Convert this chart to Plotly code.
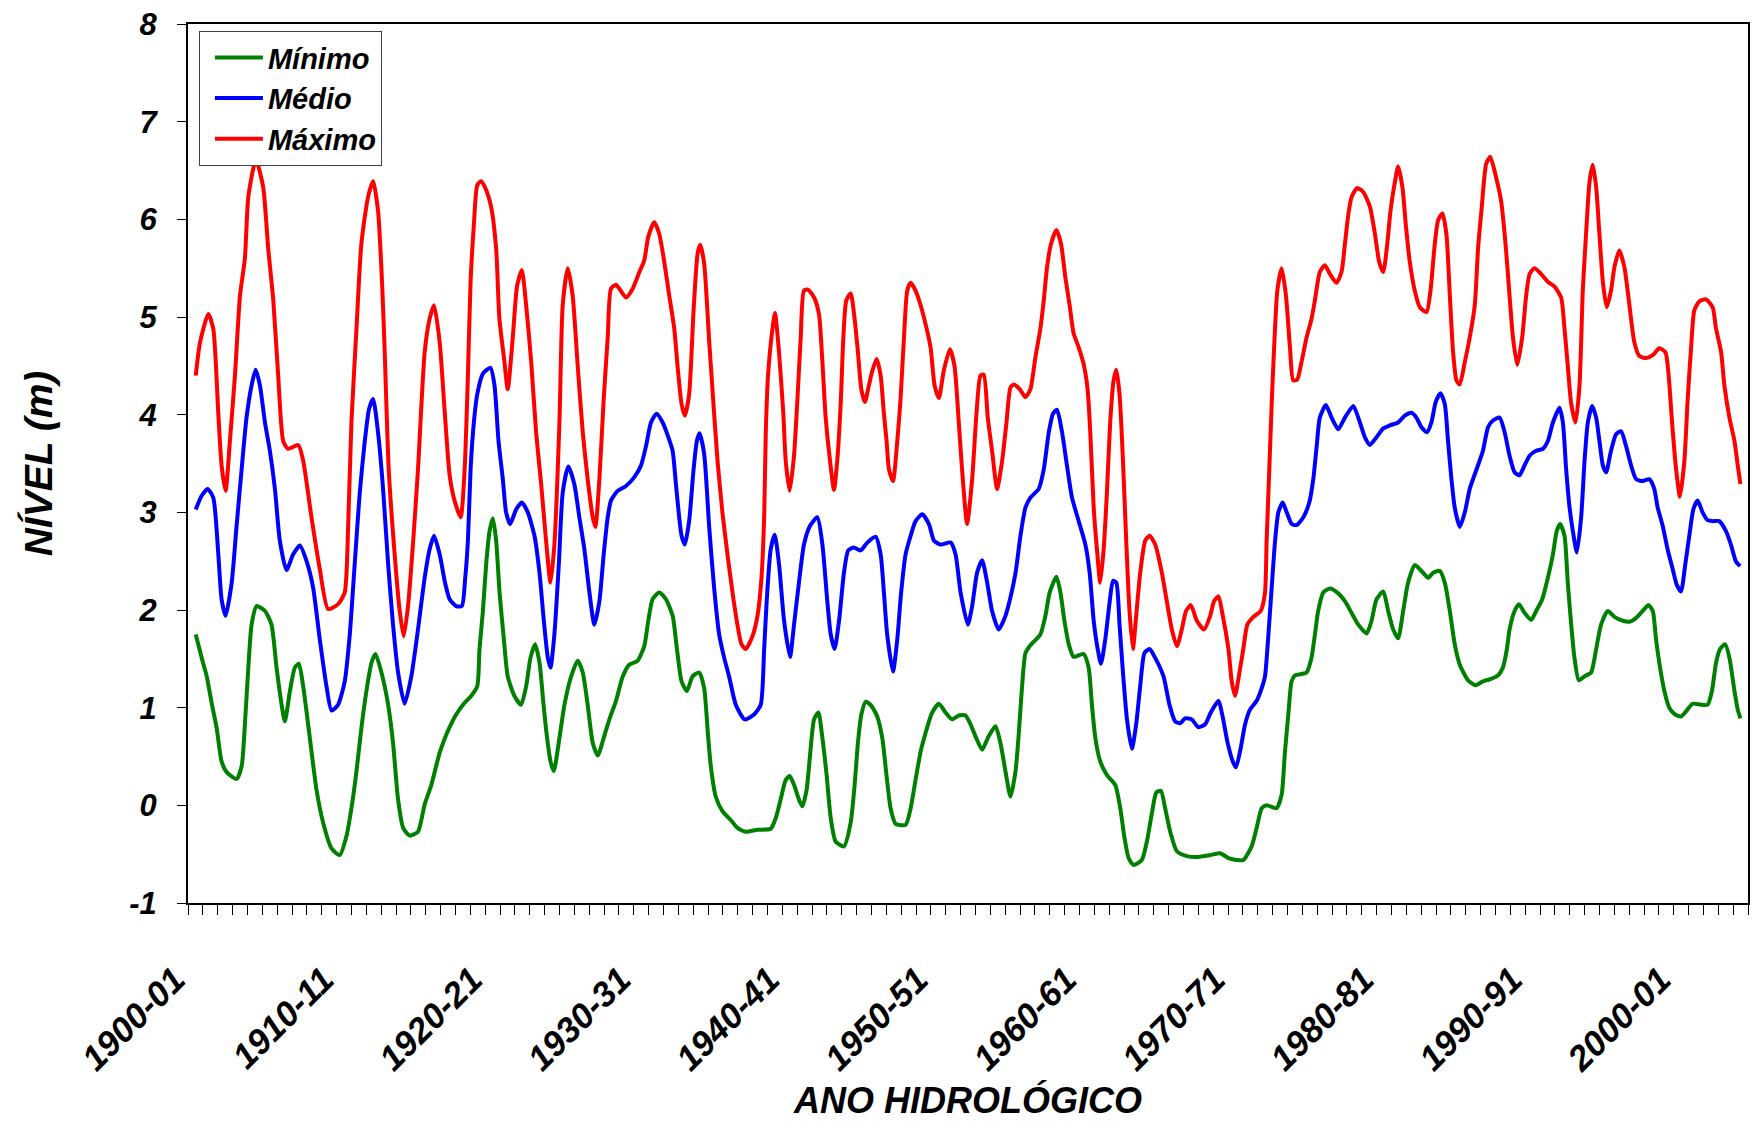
import plotly.graph_objects as go

# Hydrological-year axis: labels every ten years, tick marks every year
DECADE_LABELS = ["1900-01", "1910-11", "1920-21", "1930-31", "1940-41", "1950-51",
                 "1960-61", "1970-71", "1980-81", "1990-91", "2000-01"]
FIRST_YEAR = 1900
LAST_YEAR = 2005

# Level axis
LEVEL_TICKS = [-1, 0, 1, 2, 3, 4, 5, 6, 7, 8]
LEVEL_LABELS = ["-1", "0", "1", "2", "3", "4", "5", "6", "7", "8"]

SERIES_NAMES = ["Mínimo", "Médio", "Máximo"]
SERIES_COLORS = ["#008000", "#0000FF", "#FF0000"]

# Mínimo
min_years = [
    1900.52, 1900.92, 1901.26, 1901.59, 1901.93, 1902.26, 1902.60, 1903.27, 1903.61, 1903.83,
    1904.06, 1904.28, 1904.62, 1905.18, 1905.62, 1905.96, 1906.30, 1906.52, 1906.86, 1907.19,
    1907.46, 1907.75, 1908.20, 1908.65, 1909.10, 1909.66, 1910.21, 1910.66, 1911.00, 1911.34,
    1911.67, 1912.01, 1912.35, 1912.62, 1913.02, 1913.47, 1913.80, 1914.14, 1914.48, 1914.92,
    1915.48, 1915.93, 1916.38, 1916.94, 1917.27, 1917.61, 1918.05, 1918.62, 1919.06, 1919.47,
    1919.62, 1919.85, 1920.07, 1920.30, 1920.52, 1920.74, 1920.97, 1921.26, 1921.52, 1921.97,
    1922.42, 1922.76, 1923.05, 1923.36, 1923.66, 1923.93, 1924.17, 1924.40, 1924.62, 1925.00,
    1925.34, 1925.79, 1926.23, 1926.57, 1926.90, 1927.24, 1927.58, 1927.98, 1928.36, 1928.81,
    1929.26, 1929.70, 1930.26, 1930.71, 1930.98, 1931.27, 1931.72, 1932.17, 1932.62, 1932.91,
    1933.22, 1933.58, 1933.96, 1934.41, 1934.74, 1935.00, 1935.19, 1935.52, 1935.97, 1936.53,
    1936.98, 1937.54, 1938.33, 1939.22, 1939.56, 1939.89, 1940.23, 1940.50, 1940.79, 1941.12,
    1941.35, 1941.64, 1941.86, 1942.14, 1942.43, 1942.70, 1942.99, 1943.26, 1943.59, 1944.15,
    1944.60, 1944.87, 1945.09, 1945.32, 1945.61, 1945.94, 1946.39, 1946.73, 1947.02, 1947.29,
    1947.63, 1948.30, 1948.64, 1948.97, 1949.31, 1949.64, 1950.09, 1950.54, 1950.99, 1951.43,
    1951.88, 1952.33, 1952.67, 1953.11, 1953.45, 1953.90, 1954.35, 1954.68, 1955.02, 1955.36,
    1955.70, 1955.92, 1956.14, 1956.37, 1956.70, 1957.37, 1957.71, 1958.00, 1958.45, 1958.72,
    1958.99, 1959.28, 1959.61, 1960.28, 1960.62, 1960.84, 1961.07, 1961.40, 1961.85, 1962.41,
    1962.75, 1963.02, 1963.31, 1963.64, 1964.20, 1964.54, 1964.88, 1965.17, 1965.48, 1965.77,
    1966.11, 1966.56, 1967.23, 1967.90, 1968.80, 1969.47, 1970.03, 1970.60, 1971.03, 1971.59,
    1971.93, 1972.27, 1972.60, 1973.27, 1973.61, 1973.83, 1974.06, 1974.28, 1974.51, 1975.29,
    1975.62, 1975.85, 1976.07, 1976.41, 1976.86, 1977.42, 1977.87, 1978.32, 1978.77, 1979.33,
    1979.66, 1980.00, 1980.45, 1980.78, 1981.12, 1981.45, 1981.79, 1982.12, 1982.57, 1983.02,
    1983.47, 1983.80, 1984.25, 1984.59, 1984.93, 1985.26, 1985.60, 1986.16, 1986.67, 1987.16,
    1987.61, 1988.17, 1988.50, 1988.77, 1988.95, 1989.29, 1989.58, 1989.96, 1990.41, 1990.74,
    1991.15, 1991.53, 1991.87, 1992.13, 1992.36, 1992.65, 1992.87, 1993.10, 1993.32, 1993.61,
    1993.99, 1994.44, 1994.78, 1995.11, 1995.56, 1996.01, 1996.57, 1997.02, 1997.47, 1997.91,
    1998.30, 1998.59, 1998.81, 1999.03, 1999.37, 1999.70, 2000.10, 2000.49, 2000.87, 2001.27,
    2001.83, 2002.28, 2002.57, 2002.85, 2003.12, 2003.46, 2003.75, 2004.09, 2004.31, 2004.49,
]
min_level = [
    1.75, 1.51, 1.32, 1.05, 0.79, 0.45, 0.34, 0.27, 0.40, 0.83,
    1.41, 1.85, 2.04, 1.99, 1.85, 1.41, 1.03, 0.86, 1.17, 1.41,
    1.45, 1.22, 0.69, 0.16, -0.18, -0.44, -0.51, -0.32, -0.03, 0.35,
    0.79, 1.17, 1.46, 1.55, 1.36, 1.03, 0.64, 0.06, -0.23, -0.31,
    -0.27, 0.01, 0.21, 0.54, 0.68, 0.80, 0.93, 1.05, 1.12, 1.22,
    1.60, 1.99, 2.47, 2.81, 2.94, 2.71, 2.18, 1.70, 1.32, 1.12,
    1.03, 1.22, 1.51, 1.65, 1.46, 1.03, 0.69, 0.45, 0.35, 0.69,
    1.03, 1.32, 1.48, 1.36, 1.03, 0.64, 0.51, 0.69, 0.88, 1.07,
    1.32, 1.44, 1.48, 1.63, 1.89, 2.11, 2.18, 2.11, 1.94, 1.60,
    1.27, 1.17, 1.32, 1.36, 1.20, 0.72, 0.40, 0.09, -0.06, -0.15,
    -0.23, -0.27, -0.25, -0.24, -0.13, 0.06, 0.26, 0.30, 0.21, 0.06,
    -0.01, 0.16, 0.50, 0.88, 0.95, 0.69, 0.30, -0.13, -0.37, -0.42,
    -0.18, 0.21, 0.64, 0.93, 1.06, 1.03, 0.91, 0.69, 0.30, -0.03,
    -0.19, -0.20, -0.03, 0.26, 0.55, 0.74, 0.95, 1.04, 0.95, 0.88,
    0.92, 0.92, 0.83, 0.67, 0.57, 0.71, 0.81, 0.64, 0.35, 0.09,
    0.35, 0.74, 1.22, 1.56, 1.64, 1.75, 1.94, 2.18, 2.34, 2.18,
    1.89, 1.65, 1.52, 1.55, 1.41, 1.03, 0.69, 0.45, 0.31, 0.21,
    -0.03, -0.32, -0.54, -0.61, -0.56, -0.37, -0.08, 0.13, 0.15, -0.03,
    -0.27, -0.47, -0.52, -0.53, -0.51, -0.49, -0.54, -0.56, -0.56, -0.42,
    -0.23, -0.03, 0.00, -0.03, 0.11, 0.54, 0.93, 1.27, 1.33, 1.36,
    1.51, 1.75, 1.99, 2.18, 2.22, 2.17, 2.09, 1.97, 1.85, 1.76,
    1.89, 2.11, 2.19, 1.99, 1.80, 1.71, 1.99, 2.28, 2.46, 2.40,
    2.33, 2.38, 2.40, 2.28, 1.99, 1.65, 1.44, 1.28, 1.23, 1.27,
    1.29, 1.33, 1.41, 1.60, 1.80, 1.99, 2.06, 1.97, 1.90, 1.99,
    2.11, 2.33, 2.57, 2.81, 2.88, 2.76, 2.28, 1.85, 1.51, 1.28,
    1.32, 1.36, 1.60, 1.85, 1.99, 1.93, 1.89, 1.88, 1.92, 1.99,
    2.05, 1.99, 1.70, 1.46, 1.17, 1.00, 0.93, 0.91, 0.97, 1.04,
    1.03, 1.03, 1.17, 1.46, 1.60, 1.65, 1.51, 1.17, 0.98, 0.89,
]

# Médio
mean_years = [
    1900.52, 1900.92, 1901.32, 1901.70, 1902.04, 1902.26, 1902.53, 1902.94, 1903.27, 1903.61,
    1903.94, 1904.28, 1904.55, 1904.84, 1905.18, 1905.51, 1905.85, 1906.18, 1906.63, 1907.08,
    1907.53, 1907.98, 1908.42, 1908.87, 1909.32, 1909.66, 1910.10, 1910.55, 1910.89, 1911.22,
    1911.56, 1911.90, 1912.19, 1912.46, 1912.79, 1913.13, 1913.47, 1913.80, 1914.14, 1914.58,
    1915.03, 1915.48, 1915.93, 1916.26, 1916.56, 1916.94, 1917.30, 1917.61, 1918.05, 1918.43,
    1918.66, 1918.84, 1919.02, 1919.24, 1919.47, 1919.85, 1920.36, 1920.63, 1920.90, 1921.19,
    1921.41, 1921.68, 1922.09, 1922.47, 1922.87, 1923.32, 1923.66, 1923.95, 1924.22, 1924.40,
    1924.66, 1924.96, 1925.22, 1925.60, 1926.00, 1926.34, 1926.68, 1927.02, 1927.35, 1927.69,
    1927.98, 1928.25, 1928.47, 1928.92, 1929.48, 1930.04, 1930.49, 1930.83, 1931.16, 1931.54,
    1931.95, 1932.33, 1932.62, 1932.84, 1933.06, 1933.22, 1933.44, 1933.73, 1934.03, 1934.25,
    1934.43, 1934.74, 1935.08, 1935.41, 1935.75, 1936.09, 1936.42, 1936.87, 1937.47, 1938.10,
    1938.55, 1938.78, 1938.95, 1939.22, 1939.49, 1939.78, 1940.12, 1940.52, 1940.79, 1941.12,
    1941.46, 1941.86, 1942.36, 1942.70, 1943.03, 1943.26, 1943.52, 1943.82, 1944.15, 1944.44,
    1944.82, 1945.27, 1945.72, 1946.28, 1946.62, 1946.84, 1947.06, 1947.45, 1947.74, 1948.00,
    1948.30, 1948.64, 1948.97, 1949.42, 1949.87, 1950.21, 1950.65, 1951.33, 1951.66, 1952.00,
    1952.49, 1952.78, 1953.11, 1953.45, 1953.79, 1954.12, 1954.57, 1955.02, 1955.36, 1955.70,
    1956.03, 1956.37, 1956.70, 1957.26, 1957.60, 1957.94, 1958.22, 1958.49, 1958.83, 1959.16,
    1959.50, 1959.95, 1960.40, 1960.69, 1960.96, 1961.23, 1961.45, 1961.74, 1962.04, 1962.26,
    1962.48, 1962.70, 1962.93, 1963.20, 1963.53, 1963.82, 1964.09, 1964.38, 1964.72, 1965.10,
    1965.66, 1966.06, 1966.44, 1966.78, 1967.11, 1967.56, 1968.01, 1968.46, 1968.84, 1969.36,
    1969.65, 1969.96, 1970.32, 1970.54, 1970.86, 1971.15, 1971.48, 1971.93, 1972.27, 1972.49,
    1972.72, 1972.94, 1973.17, 1973.39, 1973.68, 1973.95, 1974.29, 1974.62, 1975.07, 1975.47,
    1975.74, 1975.97, 1976.18, 1976.59, 1976.97, 1977.42, 1977.87, 1978.43, 1978.88, 1979.21,
    1979.55, 1980.00, 1980.45, 1980.89, 1981.45, 1981.90, 1982.35, 1982.68, 1983.02, 1983.40,
    1983.69, 1983.98, 1984.30, 1984.59, 1984.81, 1985.04, 1985.26, 1985.60, 1985.94, 1986.27,
    1986.61, 1986.94, 1987.16, 1987.50, 1987.83, 1988.28, 1988.62, 1988.95, 1989.29, 1989.62,
    1989.96, 1990.30, 1990.74, 1991.19, 1991.53, 1991.87, 1992.31, 1992.54, 1992.76, 1992.99,
    1993.21, 1993.48, 1993.77, 1994.00, 1994.22, 1994.51, 1994.78, 1995.00, 1995.23, 1995.45,
    1995.78, 1996.12, 1996.46, 1996.79, 1997.13, 1997.47, 1997.91, 1998.36, 1998.69, 1998.92,
    1999.26, 1999.59, 1999.93, 2000.20, 2000.49, 2000.78, 2001.05, 2001.32, 2001.61, 2001.94,
    2002.28, 2002.62, 2003.06, 2003.51, 2003.85, 2004.18, 2004.47,
]
mean_level = [
    3.03, 3.17, 3.24, 3.15, 2.57, 2.11, 1.94, 2.28, 2.86, 3.44,
    3.97, 4.30, 4.46, 4.30, 3.92, 3.63, 3.24, 2.71, 2.41, 2.57,
    2.66, 2.50, 2.23, 1.70, 1.22, 0.97, 1.03, 1.27, 1.75, 2.47,
    3.20, 3.73, 4.06, 4.16, 3.82, 3.24, 2.47, 1.85, 1.36, 1.04,
    1.32, 1.80, 2.33, 2.62, 2.76, 2.57, 2.28, 2.11, 2.04, 2.04,
    2.33, 2.71, 3.44, 3.92, 4.21, 4.42, 4.48, 4.30, 3.73, 3.34,
    3.00, 2.88, 3.03, 3.10, 3.00, 2.76, 2.38, 1.89, 1.51, 1.41,
    1.75, 2.47, 3.20, 3.47, 3.29, 2.95, 2.62, 2.18, 1.85, 2.09,
    2.57, 2.95, 3.12, 3.22, 3.27, 3.36, 3.48, 3.68, 3.92, 4.01,
    3.92, 3.77, 3.63, 3.29, 2.95, 2.76, 2.67, 2.91, 3.44, 3.73,
    3.81, 3.60, 2.85, 2.23, 1.75, 1.51, 1.32, 1.03, 0.88, 0.93,
    1.03, 1.60, 2.09, 2.62, 2.77, 2.47, 1.89, 1.52, 1.85, 2.28,
    2.67, 2.86, 2.95, 2.67, 2.09, 1.75, 1.60, 1.89, 2.38, 2.61,
    2.64, 2.61, 2.69, 2.75, 2.57, 2.18, 1.75, 1.37, 1.70, 2.18,
    2.57, 2.76, 2.91, 2.98, 2.88, 2.71, 2.67, 2.69, 2.57, 2.18,
    1.85, 2.04, 2.38, 2.51, 2.28, 1.99, 1.80, 1.94, 2.13, 2.38,
    2.76, 3.05, 3.15, 3.24, 3.44, 3.82, 4.01, 4.05, 3.82, 3.48,
    3.15, 2.91, 2.67, 2.38, 1.89, 1.60, 1.45, 1.70, 2.09, 2.30,
    2.28, 1.85, 1.36, 0.88, 0.58, 0.83, 1.22, 1.56, 1.60, 1.51,
    1.32, 1.03, 0.86, 0.84, 0.89, 0.88, 0.80, 0.83, 0.95, 1.07,
    0.90, 0.65, 0.45, 0.39, 0.59, 0.83, 0.98, 1.07, 1.20, 1.32,
    1.75, 2.23, 2.71, 3.00, 3.10, 3.00, 2.88, 2.87, 2.95, 3.10,
    3.34, 3.68, 3.97, 4.10, 3.97, 3.85, 3.97, 4.09, 3.92, 3.77,
    3.69, 3.77, 3.86, 3.89, 3.92, 3.99, 4.02, 3.97, 3.87, 3.82,
    3.92, 4.13, 4.22, 4.11, 3.73, 3.34, 3.05, 2.85, 3.00, 3.24,
    3.39, 3.53, 3.63, 3.87, 3.94, 3.97, 3.82, 3.58, 3.41, 3.38,
    3.48, 3.58, 3.63, 3.65, 3.73, 3.92, 4.07, 3.92, 3.44, 3.05,
    2.81, 2.59, 2.95, 3.53, 3.92, 4.09, 3.97, 3.73, 3.48, 3.41,
    3.63, 3.80, 3.83, 3.68, 3.48, 3.34, 3.32, 3.34, 3.24, 3.05,
    2.86, 2.62, 2.42, 2.26, 2.19, 2.47, 2.76, 3.03, 3.12, 3.00,
    2.92, 2.91, 2.91, 2.81, 2.67, 2.50, 2.45,
]

# Máximo
max_years = [
    1900.52, 1900.81, 1901.37, 1901.70, 1902.04, 1902.26, 1902.53, 1902.82, 1903.16, 1903.50,
    1903.83, 1904.06, 1904.57, 1905.06, 1905.40, 1905.74, 1906.07, 1906.41, 1906.74, 1907.42,
    1907.75, 1908.31, 1908.87, 1909.43, 1910.10, 1910.55, 1910.78, 1911.00, 1911.34, 1911.67,
    1912.12, 1912.46, 1912.79, 1913.06, 1913.24, 1913.51, 1913.91, 1914.25, 1914.52, 1914.81,
    1915.14, 1915.48, 1915.93, 1916.26, 1916.56, 1916.94, 1917.27, 1917.61, 1917.94, 1918.35,
    1918.62, 1918.84, 1919.02, 1919.24, 1919.47, 1919.73, 1920.07, 1920.40, 1920.74, 1920.96,
    1921.30, 1921.52, 1921.86, 1922.15, 1922.47, 1922.76, 1923.10, 1923.43, 1923.77, 1924.10,
    1924.40, 1924.66, 1925.00, 1925.22, 1925.56, 1925.89, 1926.23, 1926.57, 1926.90, 1927.24,
    1927.42, 1927.69, 1927.98, 1928.25, 1928.47, 1928.81, 1929.48, 1929.93, 1930.38, 1930.71,
    1930.98, 1931.38, 1931.72, 1932.06, 1932.39, 1932.73, 1932.95, 1933.22, 1933.44, 1933.73,
    1934.03, 1934.30, 1934.48, 1934.74, 1935.08, 1935.30, 1935.64, 1935.97, 1936.31, 1936.65,
    1936.98, 1937.25, 1937.54, 1937.99, 1938.33, 1938.60, 1938.78, 1938.89, 1939.04, 1939.34,
    1939.51, 1939.78, 1940.07, 1940.23, 1940.50, 1940.79, 1941.02, 1941.24, 1941.46, 1941.73,
    1942.14, 1942.47, 1942.70, 1942.92, 1943.21, 1943.48, 1943.70, 1943.93, 1944.11, 1944.31,
    1944.60, 1944.87, 1945.09, 1945.32, 1945.56, 1945.83, 1946.06, 1946.35, 1946.62, 1946.84,
    1947.02, 1947.18, 1947.45, 1947.74, 1947.96, 1948.19, 1948.41, 1948.64, 1948.97, 1949.31,
    1949.64, 1949.98, 1950.25, 1950.54, 1950.87, 1951.28, 1951.59, 1951.88, 1952.10, 1952.44,
    1952.78, 1953.07, 1953.34, 1953.56, 1953.83, 1954.12, 1954.46, 1954.80, 1955.09, 1955.36,
    1955.58, 1955.99, 1956.36, 1956.70, 1957.04, 1957.37, 1957.60, 1957.82, 1958.09, 1958.45,
    1958.76, 1959.05, 1959.34, 1959.61, 1959.95, 1960.28, 1960.55, 1960.73, 1960.96, 1961.18,
    1961.40, 1961.63, 1961.85, 1962.07, 1962.30, 1962.48, 1962.70, 1962.93, 1963.15, 1963.37,
    1963.60, 1963.82, 1964.09, 1964.43, 1964.72, 1965.10, 1965.55, 1965.88, 1966.22, 1966.56,
    1966.89, 1967.18, 1967.50, 1967.90, 1968.39, 1968.80, 1969.06, 1969.36, 1969.65, 1970.03,
    1970.25, 1970.47, 1970.77, 1971.03, 1971.30, 1971.71, 1972.20, 1972.49, 1972.60, 1972.78,
    1972.94, 1973.09, 1973.32, 1973.61, 1973.90, 1974.17, 1974.39, 1974.66, 1974.95, 1975.29,
    1975.62, 1975.85, 1976.18, 1976.52, 1976.86, 1977.30, 1977.64, 1977.87, 1978.09, 1978.32,
    1978.70, 1979.10, 1979.55, 1979.89, 1980.18, 1980.45, 1980.72, 1980.94, 1981.23, 1981.45,
    1981.74, 1981.97, 1982.24, 1982.57, 1982.91, 1983.36, 1983.63, 1983.92, 1984.14, 1984.43,
    1984.70, 1984.93, 1985.15, 1985.38, 1985.60, 1985.94, 1986.27, 1986.61, 1986.83, 1987.06,
    1987.38, 1987.65, 1988.06, 1988.39, 1988.68, 1988.95, 1989.18, 1989.47, 1989.80, 1990.07,
    1990.30, 1990.63, 1991.08, 1991.53, 1991.98, 1992.42, 1992.65, 1992.87, 1993.10, 1993.39,
    1993.66, 1993.88, 1994.10, 1994.33, 1994.55, 1994.78, 1995.00, 1995.23, 1995.49, 1995.78,
    1996.01, 1996.34, 1996.68, 1997.02, 1997.35, 1997.69, 1998.14, 1998.59, 1999.03, 1999.44,
    1999.66, 1999.89, 2000.16, 2000.42, 2000.72, 2000.94, 2001.17, 2001.39, 2001.73, 2002.18,
    2002.62, 2002.85, 2003.19, 2003.41, 2003.75, 2004.09, 2004.31, 2004.49,
]
max_level = [
    4.40, 4.74, 5.03, 4.88, 4.01, 3.48, 3.22, 3.73, 4.40, 5.22,
    5.60, 6.23, 6.61, 6.33, 5.70, 5.17, 4.40, 3.73, 3.65, 3.69,
    3.53, 2.95, 2.42, 2.01, 2.06, 2.18, 2.86, 3.92, 4.88, 5.75,
    6.23, 6.39, 6.09, 5.36, 4.64, 3.44, 2.57, 1.99, 1.73, 2.04,
    2.67, 3.44, 4.64, 4.98, 5.12, 4.74, 4.05, 3.38, 3.12, 2.95,
    3.44, 4.40, 5.36, 5.94, 6.35, 6.39, 6.30, 6.13, 5.70, 4.98,
    4.54, 4.26, 4.79, 5.32, 5.48, 5.12, 4.54, 3.82, 3.29, 2.71,
    2.28, 2.67, 3.92, 5.12, 5.50, 5.22, 4.50, 3.82, 3.34, 2.95,
    2.85, 3.34, 4.16, 4.79, 5.29, 5.33, 5.20, 5.29, 5.46, 5.58,
    5.82, 5.97, 5.85, 5.56, 5.22, 4.88, 4.50, 4.11, 3.99, 4.21,
    5.07, 5.65, 5.74, 5.55, 4.75, 4.26, 3.53, 3.00, 2.57, 2.18,
    1.85, 1.65, 1.60, 1.73, 1.94, 2.33, 2.95, 3.82, 4.40, 4.88,
    5.04, 4.64, 4.01, 3.53, 3.22, 3.58, 4.16, 4.79, 5.27, 5.28,
    5.20, 5.03, 4.54, 3.97, 3.53, 3.23, 3.53, 4.11, 4.79, 5.17,
    5.24, 4.98, 4.64, 4.26, 4.13, 4.30, 4.45, 4.57, 4.40, 4.01,
    3.73, 3.44, 3.32, 3.73, 4.16, 4.79, 5.27, 5.35, 5.27, 5.12,
    4.93, 4.69, 4.30, 4.17, 4.45, 4.67, 4.50, 3.92, 3.44, 2.88,
    3.34, 4.01, 4.40, 4.41, 3.97, 3.63, 3.24, 3.53, 3.92, 4.28,
    4.31, 4.26, 4.18, 4.26, 4.59, 4.88, 5.17, 5.51, 5.75, 5.89,
    5.75, 5.41, 5.12, 4.83, 4.69, 4.52, 4.26, 3.82, 3.05, 2.62,
    2.28, 2.62, 3.20, 3.92, 4.35, 4.46, 4.21, 3.53, 2.71, 1.99,
    1.60, 1.94, 2.38, 2.71, 2.76, 2.67, 2.38, 2.09, 1.80, 1.63,
    1.80, 1.99, 2.05, 1.89, 1.80, 1.94, 2.09, 2.14, 1.94, 1.60,
    1.27, 1.12, 1.36, 1.60, 1.85, 1.93, 1.99, 2.18, 2.71, 3.44,
    4.11, 4.64, 5.27, 5.50, 5.22, 4.69, 4.35, 4.36, 4.54, 4.79,
    4.98, 5.17, 5.46, 5.53, 5.44, 5.35, 5.46, 5.75, 6.04, 6.23,
    6.32, 6.28, 6.13, 5.85, 5.56, 5.46, 5.75, 6.09, 6.38, 6.54,
    6.33, 5.94, 5.56, 5.27, 5.10, 5.05, 5.27, 5.75, 5.99, 6.06,
    5.85, 5.22, 4.64, 4.35, 4.31, 4.54, 4.79, 5.12, 5.70, 6.09,
    6.57, 6.64, 6.42, 6.18, 5.75, 5.22, 4.79, 4.51, 4.79, 5.22,
    5.44, 5.50, 5.44, 5.36, 5.31, 5.20, 4.88, 4.50, 4.11, 3.92,
    4.30, 5.27, 5.85, 6.38, 6.56, 6.33, 5.85, 5.36, 5.10, 5.27,
    5.51, 5.68, 5.51, 5.12, 4.74, 4.60, 4.58, 4.61, 4.68, 4.64,
    4.40, 3.92, 3.44, 3.16, 3.53, 4.16, 4.69, 5.07, 5.16, 5.18,
    5.10, 4.88, 4.64, 4.30, 3.97, 3.73, 3.48, 3.29,
]

FONT_FAMILY = "Liberation Sans, Arial, sans-serif"


def bold_italic(size):
    return dict(family=FONT_FAMILY, size=size, color="black", weight="bold", style="italic")


tick_years = list(range(FIRST_YEAR, LAST_YEAR + 1))
decade_text = {FIRST_YEAR + 10 * i: lab for i, lab in enumerate(DECADE_LABELS)}
tick_text = [decade_text.get(y, "") for y in tick_years]

fig = go.Figure()
for name, color, xs, ys in zip(
    SERIES_NAMES, SERIES_COLORS,
    [min_years, mean_years, max_years],
    [min_level, mean_level, max_level],
):
    fig.add_trace(go.Scatter(
        x=xs, y=ys, name=name, mode="lines",
        line=dict(color=color, width=4, shape="spline", smoothing=0.6),
    ))

fig.update_layout(
    width=1754, height=1121,
    margin=dict(l=188, r=6, t=24, b=218),
    paper_bgcolor="white", plot_bgcolor="white",
    showlegend=True,
    legend=dict(
        x=0.007, y=0.992, xanchor="left", yanchor="top",
        bgcolor="white", bordercolor="#404040", borderwidth=1,
        font=bold_italic(29), itemwidth=48, indentation=10, tracegroupgap=0,
    ),
    xaxis=dict(
        range=[FIRST_YEAR, LAST_YEAR],
        tickmode="array", tickvals=tick_years, ticktext=tick_text,
        tickangle=-45, ticks="outside", ticklen=10, tickwidth=1, tickcolor="black",
        tickfont=bold_italic(35), ticklabelstandoff=30, ticklabelshift=-13,
        showline=True, linecolor="black", linewidth=2, mirror=True,
        showgrid=False, zeroline=False, automargin=False,
        title=dict(text="ANO HIDROLÓGICO", font=bold_italic(36), standoff=17),
    ),
    yaxis=dict(
        range=[-1, 8], tickmode="array", tickvals=LEVEL_TICKS, ticktext=LEVEL_LABELS,
        ticks="outside", ticklen=9, tickwidth=1, tickcolor="black",
        tickfont=bold_italic(31), ticklabelstandoff=14,
        showline=True, linecolor="black", linewidth=2, mirror=True,
        showgrid=False, zeroline=False, automargin=False,
        title=dict(text="NÍVEL (m)", font=bold_italic(39), standoff=65),
    ),
)

fig.write_html("out.html")
